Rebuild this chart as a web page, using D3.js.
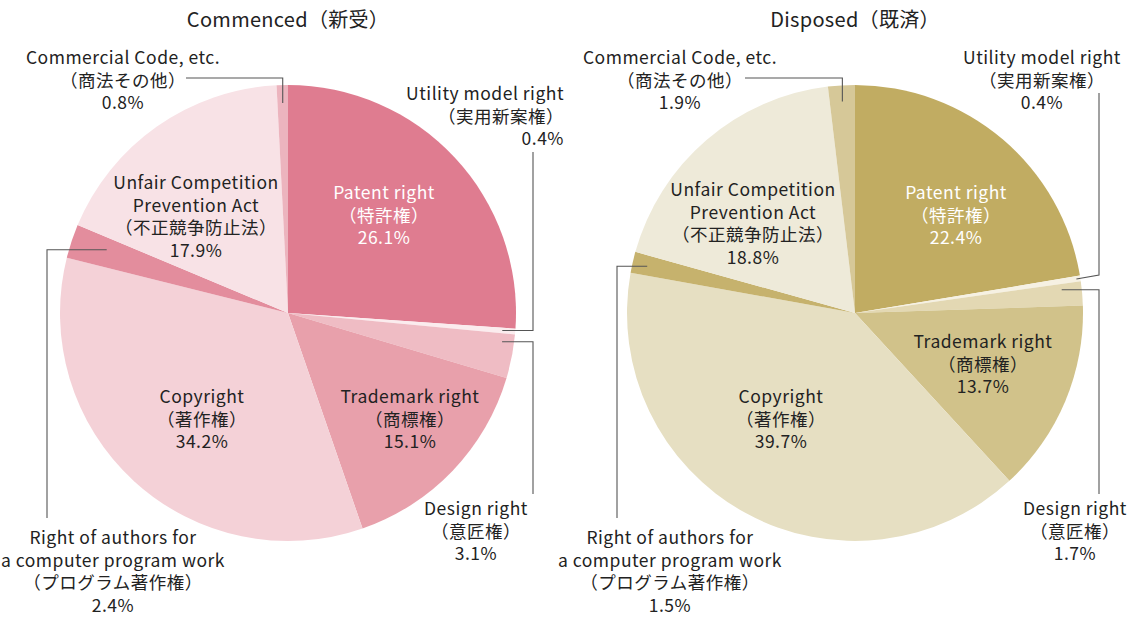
<!DOCTYPE html>
<html><head><meta charset="utf-8">
<script src="https://cdn.jsdelivr.net/npm/d3@7"></script>
<style>body{margin:0;background:#fff}svg{display:block}</style>
</head><body>
<svg id="c" width="1137" height="617"></svg>
<script>
const categories = ["Patent right","Utility model right","Design right","Trademark right","Copyright","Right of authors for a computer program work","Unfair Competition Prevention Act","Commercial Code, etc."];
const categoriesJa = ["特許権","実用新案権","意匠権","商標権","著作権","プログラム著作権","不正競争防止法","商法その他"];
const commencedValues = [26.1,0.4,3.1,15.1,34.2,2.4,17.9,0.8];
const disposedValues = [22.4,0.4,1.7,13.7,39.7,1.5,18.8,1.9];
const chartTitles = ["Commenced（新受）","Disposed（既済）"];
const commencedColors = ["#df7c90","#fbecee","#efbcc4","#e8a0ab","#f4d1d7","#e38d9d","#f8e2e6","#ecb4be"];
const disposedColors = ["#c1ac62","#f6f1e3","#e3d8b3","#d1c28a","#e6dfc2","#c6b26d","#eeead9","#d6c898"];

const svg = d3.select("#c");
const FONT = "'Noto Sans CJK JP','Noto Sans',sans-serif";
const R = 228, LH = 22.5, FS = 17.5;

function labelLines(i, v){
  const en = categories[i];
  let lines;
  if (i===5) lines = ["Right of authors for","a computer program work"];
  else if (i===6) lines = ["Unfair Competition","Prevention Act"];
  else lines = [en];
  return lines.concat(["（"+categoriesJa[i]+"）", v.toFixed(1)+"%"]);
}

function drawPie(cfg){
  const g = svg.append("g").attr("transform",`translate(${cfg.cx},${cfg.cy})`);
  const pie = d3.pie().sort(null).value(d=>d);
  const arcs = pie(cfg.values);
  const arc = d3.arc().innerRadius(0).outerRadius(R);
  g.selectAll("path").data(arcs).join("path")
    .attr("d",arc).attr("fill",(d,i)=>cfg.colors[i]);

  svg.append("text").attr("x",cfg.cx).attr("y",27).attr("text-anchor","middle")
    .attr("font-family",FONT).attr("font-size",20).attr("letter-spacing",0.3)
    .attr("fill","#222").text(cfg.title);

  const pt = (i,frac,r)=>{
    const a = arcs[i].startAngle + frac*(arcs[i].endAngle-arcs[i].startAngle);
    return [cfg.cx + r*Math.sin(a), cfg.cy - r*Math.cos(a)];
  };

  cfg.labels.forEach(L=>{
    const lines = labelLines(L.i, cfg.values[L.i]);
    const t = svg.append("text").attr("font-family",FONT).attr("font-size",FS)
      .attr("letter-spacing",0.5)
      .attr("fill", L.white ? "#fff" : "#222").attr("text-anchor",L.anchor||"middle");
    lines.forEach((s,k)=>{
      t.append("tspan").attr("x",L.x).attr("y",L.y + k*LH).text(s);
    });
  });

  cfg.leaders.forEach(Ld=>{
    const p0 = pt(Ld.i, Ld.frac, Ld.r);
    const pts = [p0].concat(Ld.path(p0));
    svg.append("path").attr("d",d3.line()(pts)).attr("fill","none")
      .attr("stroke","#555").attr("stroke-width",1.1);
  });
}

drawPie({
  cx:288, cy:313, values:commencedValues, colors:commencedColors, title:chartTitles[0],
  labels:[
    {i:0,x:384,y:199,white:true},
    {i:3,x:410,y:403},
    {i:4,x:202,y:403},
    {i:6,x:196,y:189},
    {i:7,x:123,y:64},
    {i:1,x:564,y:100,anchor:"end"},
    {i:2,x:476,y:515},
    {i:5,x:113,y:544}
  ],
  leaders:[
    {i:7,frac:0.5,r:210,path:p=>[[p[0],78],[186,78]]},
    {i:1,frac:0.5,r:215,path:p=>[[533,p[1]],[533,152]]},
    {i:2,frac:0.2,r:216,path:p=>[[533,p[1]],[533,494]]},
    {i:5,frac:0.6,r:192,path:p=>[[47,p[1]],[47,518]]}
  ]
});

drawPie({
  cx:855, cy:313, values:disposedValues, colors:disposedColors, title:chartTitles[1],
  labels:[
    {i:0,x:956,y:199,white:true},
    {i:3,x:983,y:348},
    {i:4,x:781,y:403},
    {i:6,x:753,y:196},
    {i:7,x:680,y:64},
    {i:1,x:1042,y:64},
    {i:2,x:1075,y:515},
    {i:5,x:670,y:544}
  ],
  leaders:[
    {i:7,frac:0.5,r:212,path:p=>[[p[0],78],[745,78]]},
    {i:1,frac:0.5,r:224,path:p=>[[1099,p[1]-4],[1099,93]]},
    {i:2,frac:0.26,r:208,path:p=>[[1099,p[1]],[1099,494]]},
    {i:5,frac:0.47,r:213,path:p=>[[617,p[1]],[617,518]]}
  ]
});
</script>
</body></html>
